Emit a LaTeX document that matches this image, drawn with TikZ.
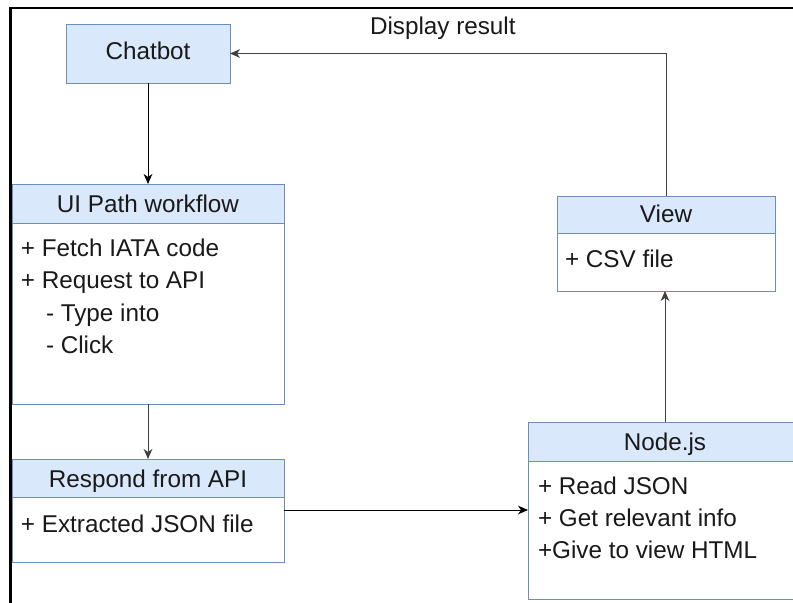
\documentclass[tikz,border=0pt]{standalone}
\usepackage{fontspec}
\setmainfont{Liberation Sans}
\usetikzlibrary{arrows.meta}
\newlength\pxu
\setlength\pxu{0.75pt}
\definecolor{hdrfill}{HTML}{DAE8FC}
\definecolor{hdrline}{HTML}{6C8EBF}
\tikzset{
  box/.style={draw=hdrline, line width=0.75pt, inner sep=0pt, outer sep=0pt, anchor=center},
  hdr/.style={box, fill=hdrfill},
  bodybox/.style={box, fill=white},
  txt/.style={inner sep=0pt, outer sep=0pt, anchor=base west, font=\fontsize{18.2pt}{22pt}\selectfont, text=black!90},
  ctxt/.style={txt, anchor=base},
  arr/.style={draw=black, line width=0.75pt, -{Stealth[length=7.5pt,width=6.5pt,inset=2.25pt]}},
  farr/.style={arr, draw=black!75},
  frame/.style={draw=black, line width=1.65pt}
}
\begin{document}
\begin{tikzpicture}[x=0.75pt, y=-0.75pt]
\useasboundingbox (0,0) rectangle (793,603);
\clip (0,0) rectangle (793,603);
\fill[white] (0,0) rectangle (793,603);
\draw[frame] (10.5,8) rectangle (900,700);

% Chatbot
\node[hdr, minimum width=164\pxu, minimum height=59\pxu] (chatbot) at (148,53.5) {};
\node[ctxt] (chatbottxt) at (148,59.5) {Chatbot};

% UI Path workflow
\node[hdr, minimum width=272\pxu, minimum height=39\pxu] (uihdr) at (148,203.5) {};
\node[bodybox, minimum width=272\pxu, minimum height=181\pxu] (uibody) at (148,313.5) {};
\node[ctxt] (uihdrtxt) at (148,212.5) {UI Path workflow};
\node[txt] (ui1) at (21,256) {+ Fetch IATA code};
\node[txt] (ui2) at (21,288.5) {+ Request to API};
\node[txt] (ui3) at (46,321) {- Type into};
\node[txt] (ui4) at (46,353.5) {- Click};

% Respond from API
\node[hdr, minimum width=272\pxu, minimum height=38\pxu] (resphdr) at (148,478) {};
\node[bodybox, minimum width=272\pxu, minimum height=65\pxu] (respbody) at (148,529.5) {};
\node[ctxt] (resphdrtxt) at (148,487) {Respond from API};
\node[txt] (resp1) at (21,532) {+ Extracted JSON file};

% Node.js
\node[hdr, minimum width=274\pxu, minimum height=39\pxu] (nodehdr) at (665,441.5) {};
\node[bodybox, minimum width=274\pxu, minimum height=138\pxu] (nodebody) at (665,530) {};
\node[ctxt] (nodehdrtxt) at (665,450) {Node.js};
\node[txt] (node1) at (538,494.5) {+ Read JSON};
\node[txt] (node2) at (538,526.5) {+ Get relevant info};
\node[txt] (node3) at (538,558.5) {+Give to view HTML};

% View
\node[hdr, minimum width=218\pxu, minimum height=37\pxu] (viewhdr) at (666,214.5) {};
\node[bodybox, minimum width=218\pxu, minimum height=58\pxu] (viewbody) at (666,262) {};
\node[ctxt] (viewhdrtxt) at (666,222) {View};
\node[txt] (view1) at (565,267) {+ CSV file};

% label
\node[txt] (disp) at (370,34.5) {Display result};

% connectors
\draw[arr] (chatbot.south) -- (uihdr.north);
\draw[farr] (uibody.south) -- (resphdr.north);
\coordinate (rj) at ([yshift=-9.75pt]respbody.north east);
\draw[arr] (rj) -- (rj -| nodebody.west);
\draw[farr] (nodehdr.north) -- (nodehdr.north |- viewbody.south);
\draw[farr] (viewhdr.north) |- (chatbot.east);
\end{tikzpicture}
\end{document}
